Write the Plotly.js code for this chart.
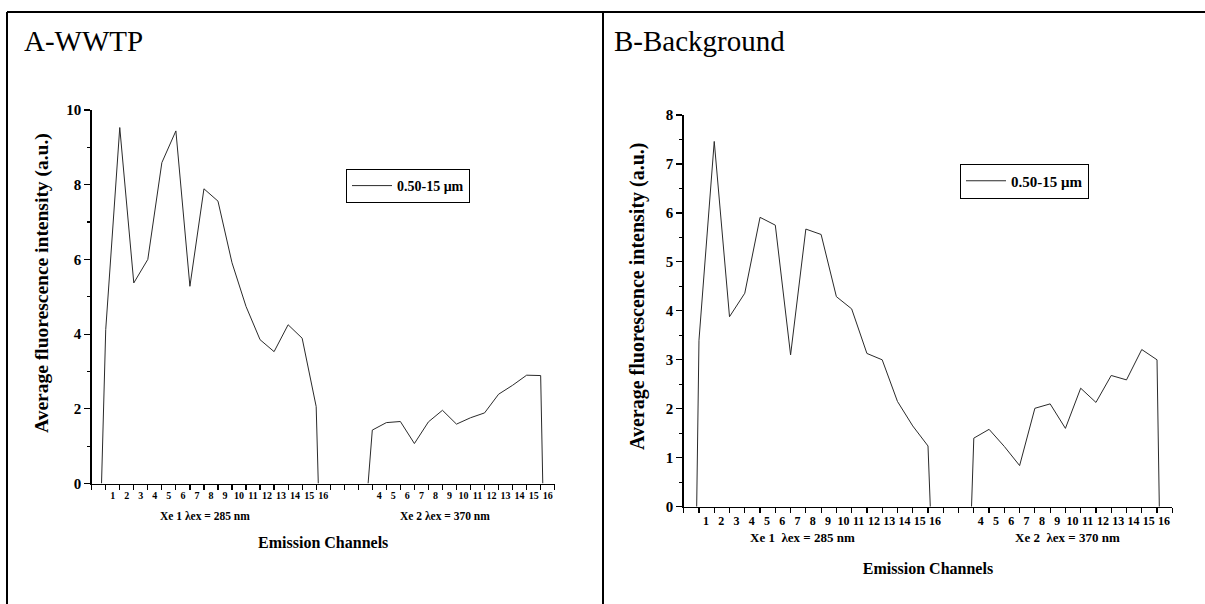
<!DOCTYPE html>
<html>
<head>
<meta charset="utf-8">
<script src="https://cdn.plot.ly/plotly-3.0.1.min.js"></script>
<style>html,body{margin:0;padding:0;background:#fff;}#chart{width:1205px;height:604px;}</style>
</head>
<body>
<div id="chart"></div>
<script>
// ---- data ----
const xe1Channels = [1,2,3,4,5,6,7,8,9,10,11,12,13,14,15,16];
const xe2Channels = [4,5,6,7,8,9,10,11,12,13,14,15,16];
const seriesName = "0.50-15 μm";
const wwtpXe1 = [4.12, 9.53, 5.37, 6.00, 8.59, 9.44, 5.28, 7.89, 7.56, 5.91, 4.74, 3.85, 3.53, 4.25, 3.89, 2.06];
const wwtpXe2 = [1.43, 1.63, 1.66, 1.07, 1.65, 1.96, 1.59, 1.76, 1.89, 2.39, 2.63, 2.90, 2.89];
const bgXe1 = [3.40, 7.46, 3.88, 4.36, 5.91, 5.75, 3.10, 5.67, 5.56, 4.29, 4.04, 3.13, 3.00, 2.15, 1.65, 1.24];
const bgXe2 = [1.40, 1.58, 1.23, 0.84, 2.01, 2.10, 1.60, 2.42, 2.13, 2.68, 2.59, 3.21, 3.00];
const xe1Label = "Xe 1 λex = 285 nm";
const xe2Label = "Xe 2 λex = 370 nm";
const xe2LabelB = "Xe 2  λex = 370 nm";
const xe1LabelB = "Xe 1  λex = 285 nm";
const yTitle = "Average fluorescence intensity (a.u.)";
const xTitle = "Emission Channels";

// ---- helpers ----
const FONT = "Liberation Serif";
const W = 1205, H = 604;
const px = v => v / W;
const py = v => 1 - v / H;

// build one continuous trace: each excitation block rises from 0 and falls back to 0
function buildTrace(xe2Offset, v1, v2, lead, trail, xa, ya, legendId) {
  const xs = [], ys = [];
  xs.push(xe1Channels[0] - lead); ys.push(0);
  xe1Channels.forEach((c, i) => { xs.push(c); ys.push(v1[i]); });
  xs.push(xe1Channels[xe1Channels.length - 1] + trail); ys.push(0);
  xs.push(null); ys.push(null);
  xs.push(xe2Channels[0] + xe2Offset - lead); ys.push(0);
  xe2Channels.forEach((c, i) => { xs.push(c + xe2Offset); ys.push(v2[i]); });
  xs.push(xe2Channels[xe2Channels.length - 1] + xe2Offset + trail); ys.push(0);
  return {
    type: "scatter", mode: "lines", x: xs, y: ys, name: seriesName,
    xaxis: xa, yaxis: ya, legend: legendId, connectgaps: false,
    line: {color: "#2a2a2a", width: 1}, hoverinfo: "skip"
  };
}

function slotTicks(xe2Offset, maxSlot) {
  const vals = [], text = [];
  for (let s = 0; s <= maxSlot; s++) {
    vals.push(s);
    let t = "";
    if (xe1Channels.includes(s)) t = String(s);
    else if (xe2Channels.includes(s - xe2Offset)) t = String(s - xe2Offset);
    text.push(t);
  }
  return {vals, text};
}

const offA = 16, offB = 15;
const ticksA = slotTicks(offA, 33);
const ticksB = slotTicks(offB, 32);

const traceA = buildTrace(offA, wwtpXe1, wwtpXe2, 0.3, 0.15, "x", "y", "legend");
const traceB = buildTrace(offB, bgXe1, bgXe2, 0.15, 0.15, "x2", "y2", "legend2");

function xAxis(domain, range, ticks, fsize, standoff) {
  return {
    domain: domain, range: range,
    tickmode: "array", tickvals: ticks.vals, ticktext: ticks.text,
    ticks: "outside", ticklen: 5, tickwidth: 1.2, tickcolor: "#000",
    showline: true, linecolor: "#000", linewidth: 1.5,
    showgrid: false, zeroline: false,
    tickfont: {family: FONT, size: fsize, color: "#000", weight: "bold"},
    ticklabelshift: 7, ticklabelstandoff: -3,
    title: {text: xTitle, font: {family: FONT, size: 16, color: "#000", weight: "bold"}, standoff: standoff},
    fixedrange: true
  };
}
function yAxis(domain, range, dtick, minorDtick) {
  return {
    domain: domain, range: range, dtick: dtick, tick0: 0,
    ticks: "outside", ticklen: 6, tickwidth: 1.2, tickcolor: "#000",
    minor: {dtick: minorDtick, ticks: "outside", ticklen: 3.5, tickwidth: 1.2, tickcolor: "#000", showgrid: false},
    showline: true, linecolor: "#000", linewidth: 1.5,
    showgrid: false, zeroline: false,
    tickfont: {family: FONT, size: 15, color: "#000", weight: "bold"},
    fixedrange: true
  };
}

const xa = xAxis([px(91.7), px(554.7)], [0, 33], ticksA, 10, 37);
xa.anchor = "y";
const ya = yAxis([py(483.5), py(110)], [0, 10], 2, 1);
ya.anchor = "x";
const xb = xAxis([px(683.7), px(1172.3)], [0, 32], ticksB, 12, 36);
xb.anchor = "y2";
const yb = yAxis([py(506.7), py(115)], [0, 8], 1, 0.5);
yb.anchor = "x2";

function legendAt(x, y, fsize) {
  return {
    x: px(x), y: py(y), xref: "paper", yref: "paper", xanchor: "left", yanchor: "middle",
    bgcolor: "#fff", bordercolor: "#000", borderwidth: 1,
    font: {family: FONT, size: fsize, color: "#000", weight: "bold"},
    itemwidth: 40, tracegroupgap: 0
  };
}

function note(text, x, y, size, weight, xanchor, angle) {
  return {
    text: text, x: px(x), y: py(y), xref: "paper", yref: "paper",
    xanchor: xanchor || "center", yanchor: "middle", showarrow: false, textangle: angle || 0,
    font: {family: FONT, size: size, color: "#000", weight: weight || "bold"}
  };
}

function frameLine(x0, y0, x1, y1) {
  return {type: "line", xref: "paper", yref: "paper", x0: px(x0), y0: py(y0), x1: px(x1), y1: py(y1),
          line: {color: "#000", width: 2}, layer: "above"};
}

const layout = {
  width: W, height: H,
  margin: {l: 0, r: 0, t: 0, b: 0},
  paper_bgcolor: "#fff", plot_bgcolor: "#fff",
  font: {family: FONT, color: "#000"},
  showlegend: true,
  xaxis: xa, yaxis: ya, xaxis2: xb, yaxis2: yb,
  legend: legendAt(346, 186, 14),
  legend2: legendAt(960, 181, 15),
  annotations: [
    note("A-WWTP", 22, 41, 29, "normal", "left"),
    note("B-Background", 612, 41, 29, "normal", "left"),
    note(yTitle, 42, 283, 19.5, "bold", "center", -90),
    note(yTitle, 637, 296, 20, "bold", "center", -90),
    note(xe1Label, 205, 516, 11.5),
    note(xe2Label, 445, 516, 11.5),
    note(xe1LabelB, 802, 537, 13),
    note(xe2LabelB, 1067, 537, 13)
  ],
  shapes: [
    frameLine(7, 12, 1205, 12),
    frameLine(7, 12, 7, 604),
    frameLine(603, 12, 603, 604)
  ]
};

Plotly.newPlot("chart", [traceA, traceB], layout, {displayModeBar: false, staticPlot: true});
</script>
</body>
</html>
